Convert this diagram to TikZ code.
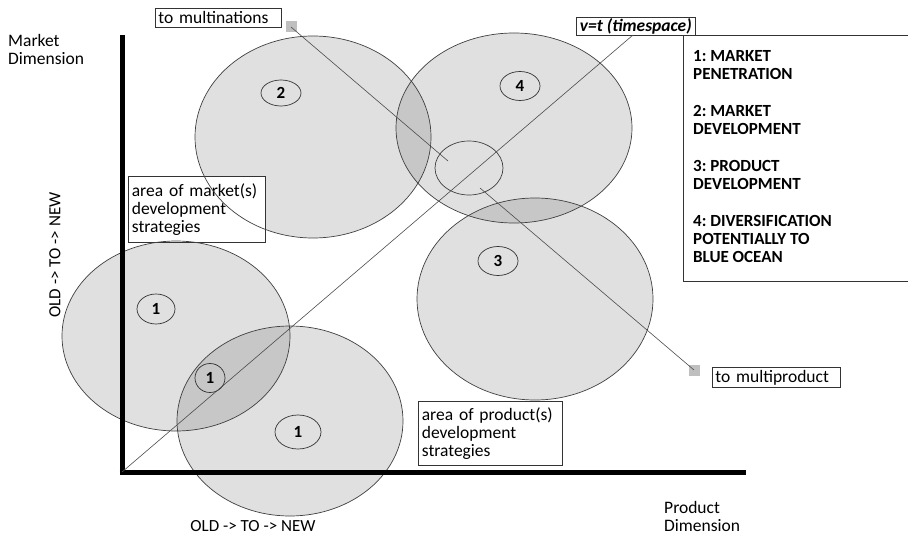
\documentclass[tikz,border=0pt]{standalone}
\usepackage{fontspec}
\usetikzlibrary{shapes.geometric}
\setmainfont{Carlito}
\frenchspacing
\begin{document}
\begin{tikzpicture}[x=1pt,y=-1pt,
  ell/.style={draw=black!75,line width=0.7pt},
  tbox/.style={draw=black!80,fill=white,line width=0.7pt,inner sep=0pt,align=left,font=\fontsize{17.5}{18}\selectfont},
  num/.style={draw=black!80,ellipse,line width=0.7pt,inner sep=0pt,font=\fontsize{17}{17}\selectfont\bfseries},
  thin/.style={draw=black!70,line width=0.6pt},
  sq/.style={fill=black!25,minimum size=11pt,inner sep=0pt}]
\useasboundingbox (0,0) rectangle (908,535);
% fills
\fill[black!12] (313,137) ellipse [x radius=118pt,y radius=101pt];
\fill[black!12] (514,128) ellipse [x radius=118pt,y radius=95pt];
\fill[black!12] (535,299) ellipse [x radius=118pt,y radius=101pt];
\fill[black!12] (176,336) ellipse [x radius=114pt,y radius=95pt];
\fill[black!12] (290,421) ellipse [x radius=113pt,y radius=95pt];
% overlaps
\begin{scope}
\clip (313,137) ellipse [x radius=118pt,y radius=101pt];
\fill[black!22] (514,128) ellipse [x radius=118pt,y radius=95pt];
\end{scope}
\begin{scope}
\clip (514,128) ellipse [x radius=118pt,y radius=95pt];
\fill[black!22] (535,299) ellipse [x radius=118pt,y radius=101pt];
\end{scope}
\begin{scope}
\clip (176,336) ellipse [x radius=114pt,y radius=95pt];
\fill[black!22] (290,421) ellipse [x radius=113pt,y radius=95pt];
\end{scope}
% boxes
\node[tbox,anchor=north west,minimum width=137pt,minimum height=66pt,text width=130pt,inner xsep=3.5pt] (mkt) at (128,176) {area of market(s)\\development\\strategies};
\node[tbox,anchor=north west,minimum width=144pt,minimum height=64pt,text width=137pt,inner xsep=3.5pt] (prd) at (418,401) {area of product(s)\\development\\strategies};
% outlines
\draw[ell] (313,137) ellipse [x radius=118pt,y radius=101pt];
\draw[ell] (514,128) ellipse [x radius=118pt,y radius=95pt];
\draw[ell] (535,299) ellipse [x radius=118pt,y radius=101pt];
\draw[ell] (176,336) ellipse [x radius=114pt,y radius=95pt];
\draw[ell] (290,421) ellipse [x radius=113pt,y radius=95pt];
\draw[ell] (469,168) ellipse [x radius=34pt,y radius=27pt];
% numbered ellipses
\node[num,minimum width=40pt,minimum height=26pt] (n2) at (281,93) {2};
\node[num,minimum width=40pt,minimum height=29pt] (n4) at (520,86) {4};
\node[num,minimum width=40pt,minimum height=29pt] (n3) at (498,261) {3};
\node[num,minimum width=38pt,minimum height=30pt] (n1a) at (156,309) {1};
\node[num,minimum width=30pt,minimum height=29pt] (n1b) at (210,378) {1};
\node[num,minimum width=46pt,minimum height=34pt] (n1c) at (298,432) {1};
% axes
\coordinate (o) at (122,472);
\coordinate (ytop) at (122,35);
\coordinate (xend) at (746,472);
\draw[line width=5pt] ([yshift=-2.5pt]o) -- (ytop);
\draw[line width=5pt] ([xshift=-2.5pt]o) -- (xend);
% labels
\node[tbox,anchor=north west,minimum width=126pt,minimum height=19pt,text width=120pt,inner xsep=3pt] (mn) at (155,8) {to multinations};
\node[tbox,anchor=north west,minimum width=128pt,minimum height=20pt,text width=122pt,inner xsep=3pt] (mp) at (712,367) {to multiproduct};
\node[draw=black!80,fill=white,line width=0.7pt,anchor=north west,minimum width=226pt,minimum height=246pt] (leg) at (683,35) {};
\node[anchor=north west,align=left,font=\fontsize{17}{18}\selectfont\bfseries,inner sep=0pt] (legt) at (693,50) {1: MARKET\\PENETRATION\\[19pt]2: MARKET\\DEVELOPMENT\\[19pt]3: PRODUCT\\DEVELOPMENT\\[19pt]4: DIVERSIFICATION\\POTENTIALLY TO\\BLUE OCEAN};
\node[draw=black!80,fill=white,line width=0.7pt,anchor=north west,minimum width=119pt,minimum height=18pt,inner sep=0pt,font=\fontsize{17.5}{18}\selectfont\bfseries\itshape] (vt) at (576,17) {v=t (timespace)};
% squares and connectors
\node[sq] (s1) at (291,27) {};
\node[sq] (s2) at (694,370) {};
\coordinate (c1) at (448,161);
\coordinate (c2) at (480,188);
\coordinate (dtop) at (633,35);
\draw[thin] (s1.center) -- (c1);
\draw[thin] (c2) -- (s2.center);
\draw[thin] (o) -- (dtop);
% axis texts
\node[anchor=north west,align=left,font=\fontsize{17.5}{18}\selectfont,inner sep=0pt] (md) at (8,34) {Market\\Dimension};
\node[anchor=north west,align=left,font=\fontsize{17.5}{18}\selectfont,inner sep=0pt] (pd) at (664,501) {Product\\Dimension};
\node[font=\fontsize{17}{18}\selectfont,inner sep=0pt] (ox) at (253,526) {OLD -> TO -> NEW};
\node[font=\fontsize{17}{18}\selectfont,rotate=90,inner sep=0pt] (oy) at (55,255) {OLD -> TO -> NEW};
\end{tikzpicture}
\end{document}
